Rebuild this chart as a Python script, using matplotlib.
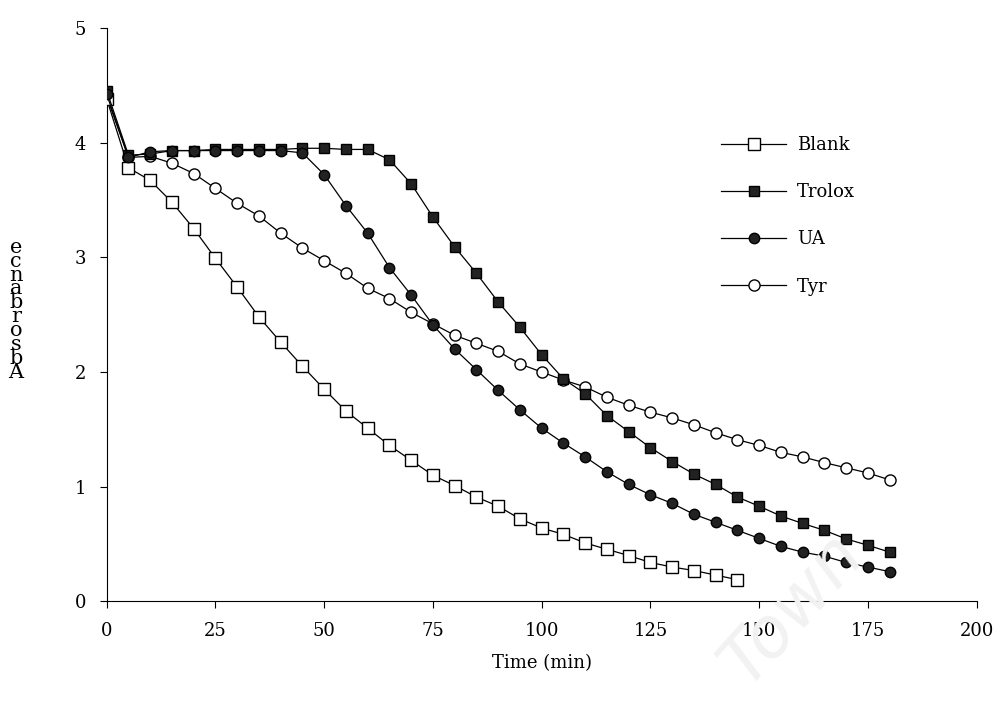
import numpy as np
import matplotlib
matplotlib.use("Agg")
import matplotlib.pyplot as plt

# Time points (min)
t_blank = np.arange(0, 150, 5)
t_full = np.arange(0, 185, 5)

# Absorbance readings
blank = [4.38, 3.78, 3.67, 3.48, 3.25, 2.99, 2.74, 2.48, 2.26, 2.05,
         1.85, 1.66, 1.51, 1.36, 1.23, 1.10, 1.01, 0.91, 0.83, 0.72,
         0.64, 0.585, 0.51, 0.455, 0.40, 0.34, 0.30, 0.27, 0.23, 0.19]
trolox = [4.45, 3.89, 3.90, 3.93, 3.93, 3.94, 3.94, 3.94, 3.94, 3.95,
          3.95, 3.94, 3.94, 3.85, 3.64, 3.35, 3.09, 2.86, 2.61, 2.39,
          2.15, 1.94, 1.81, 1.62, 1.48, 1.34, 1.22, 1.11, 1.02, 0.91,
          0.83, 0.745, 0.68, 0.62, 0.545, 0.49, 0.43]
ua = [4.42, 3.87, 3.92, 3.93, 3.93, 3.93, 3.93, 3.93, 3.93, 3.91,
      3.72, 3.45, 3.21, 2.91, 2.67, 2.41, 2.20, 2.02, 1.84, 1.67,
      1.51, 1.38, 1.26, 1.13, 1.02, 0.93, 0.855, 0.76, 0.69, 0.62,
      0.55, 0.48, 0.43, 0.395, 0.34, 0.30, 0.26]
tyr = [4.40, 3.87, 3.88, 3.82, 3.73, 3.60, 3.47, 3.36, 3.21, 3.08,
       2.97, 2.86, 2.73, 2.64, 2.52, 2.42, 2.32, 2.25, 2.18, 2.07,
       2.00, 1.93, 1.87, 1.78, 1.71, 1.65, 1.60, 1.54, 1.47, 1.41,
       1.36, 1.30, 1.26, 1.21, 1.165, 1.12, 1.06]

plt.rcParams['font.family'] = ['DejaVu Serif']

fig = plt.figure(figsize=(10.03, 7.04), dpi=100)
ax = fig.add_axes([0.1064, 0.1456, 0.8674, 0.8149])

ms = 8
ax.plot(t_full, tyr, "-o", color="black", lw=0.9, ms=ms, mfc="white", mec="black", mew=1.0, label="Tyr", zorder=2)
ax.plot(t_blank, blank, "-s", color="black", lw=0.9, ms=ms, mfc="white", mec="black", mew=1.0, label="Blank", zorder=3)
ax.plot(t_full, trolox, "-s", color="black", lw=0.9, ms=ms - 0.5, mfc="#222222", mec="black", label="Trolox", zorder=4)
ax.plot(t_full, ua, "-o", color="black", lw=0.9, ms=ms - 0.5, mfc="#222222", mec="black", label="UA", zorder=5)

ax.set_xlim(0, 200)
ax.set_ylim(0, 5)
ax.set_xticks(np.arange(0, 201, 25))
ax.set_yticks(np.arange(0, 6, 1))
ax.spines['top'].set_visible(False)
ax.spines['right'].set_visible(False)
ax.tick_params(direction="out", length=5, width=0.8, labelsize=13, pad=10)
ax.set_xlabel("Time (min)", fontsize=13, labelpad=10)

# legend in the order shown on the figure
h, l = ax.get_legend_handles_labels()
order = [1, 2, 3, 0]
fig.legend([h[i] for i in order], [l[i] for i in order],
           loc="upper left", bbox_to_anchor=(0.703, 0.830), frameon=False,
           fontsize=13, handlelength=3.6, handletextpad=0.6, labelspacing=1.62)

# stacked, reversed y label as in the original
fig.text(0.016, 0.56, "\n".join(reversed("Absorbance")), fontsize=15,
         ha="center", va="center", linespacing=0.66)

# faint watermark
fig.text(0.79, 0.135, "Town", fontsize=50, color="#f2f2f2", rotation=48,
         family="DejaVu Sans", style="italic", ha="center", va="center", zorder=0)

fig.savefig("out.png", dpi=100)
